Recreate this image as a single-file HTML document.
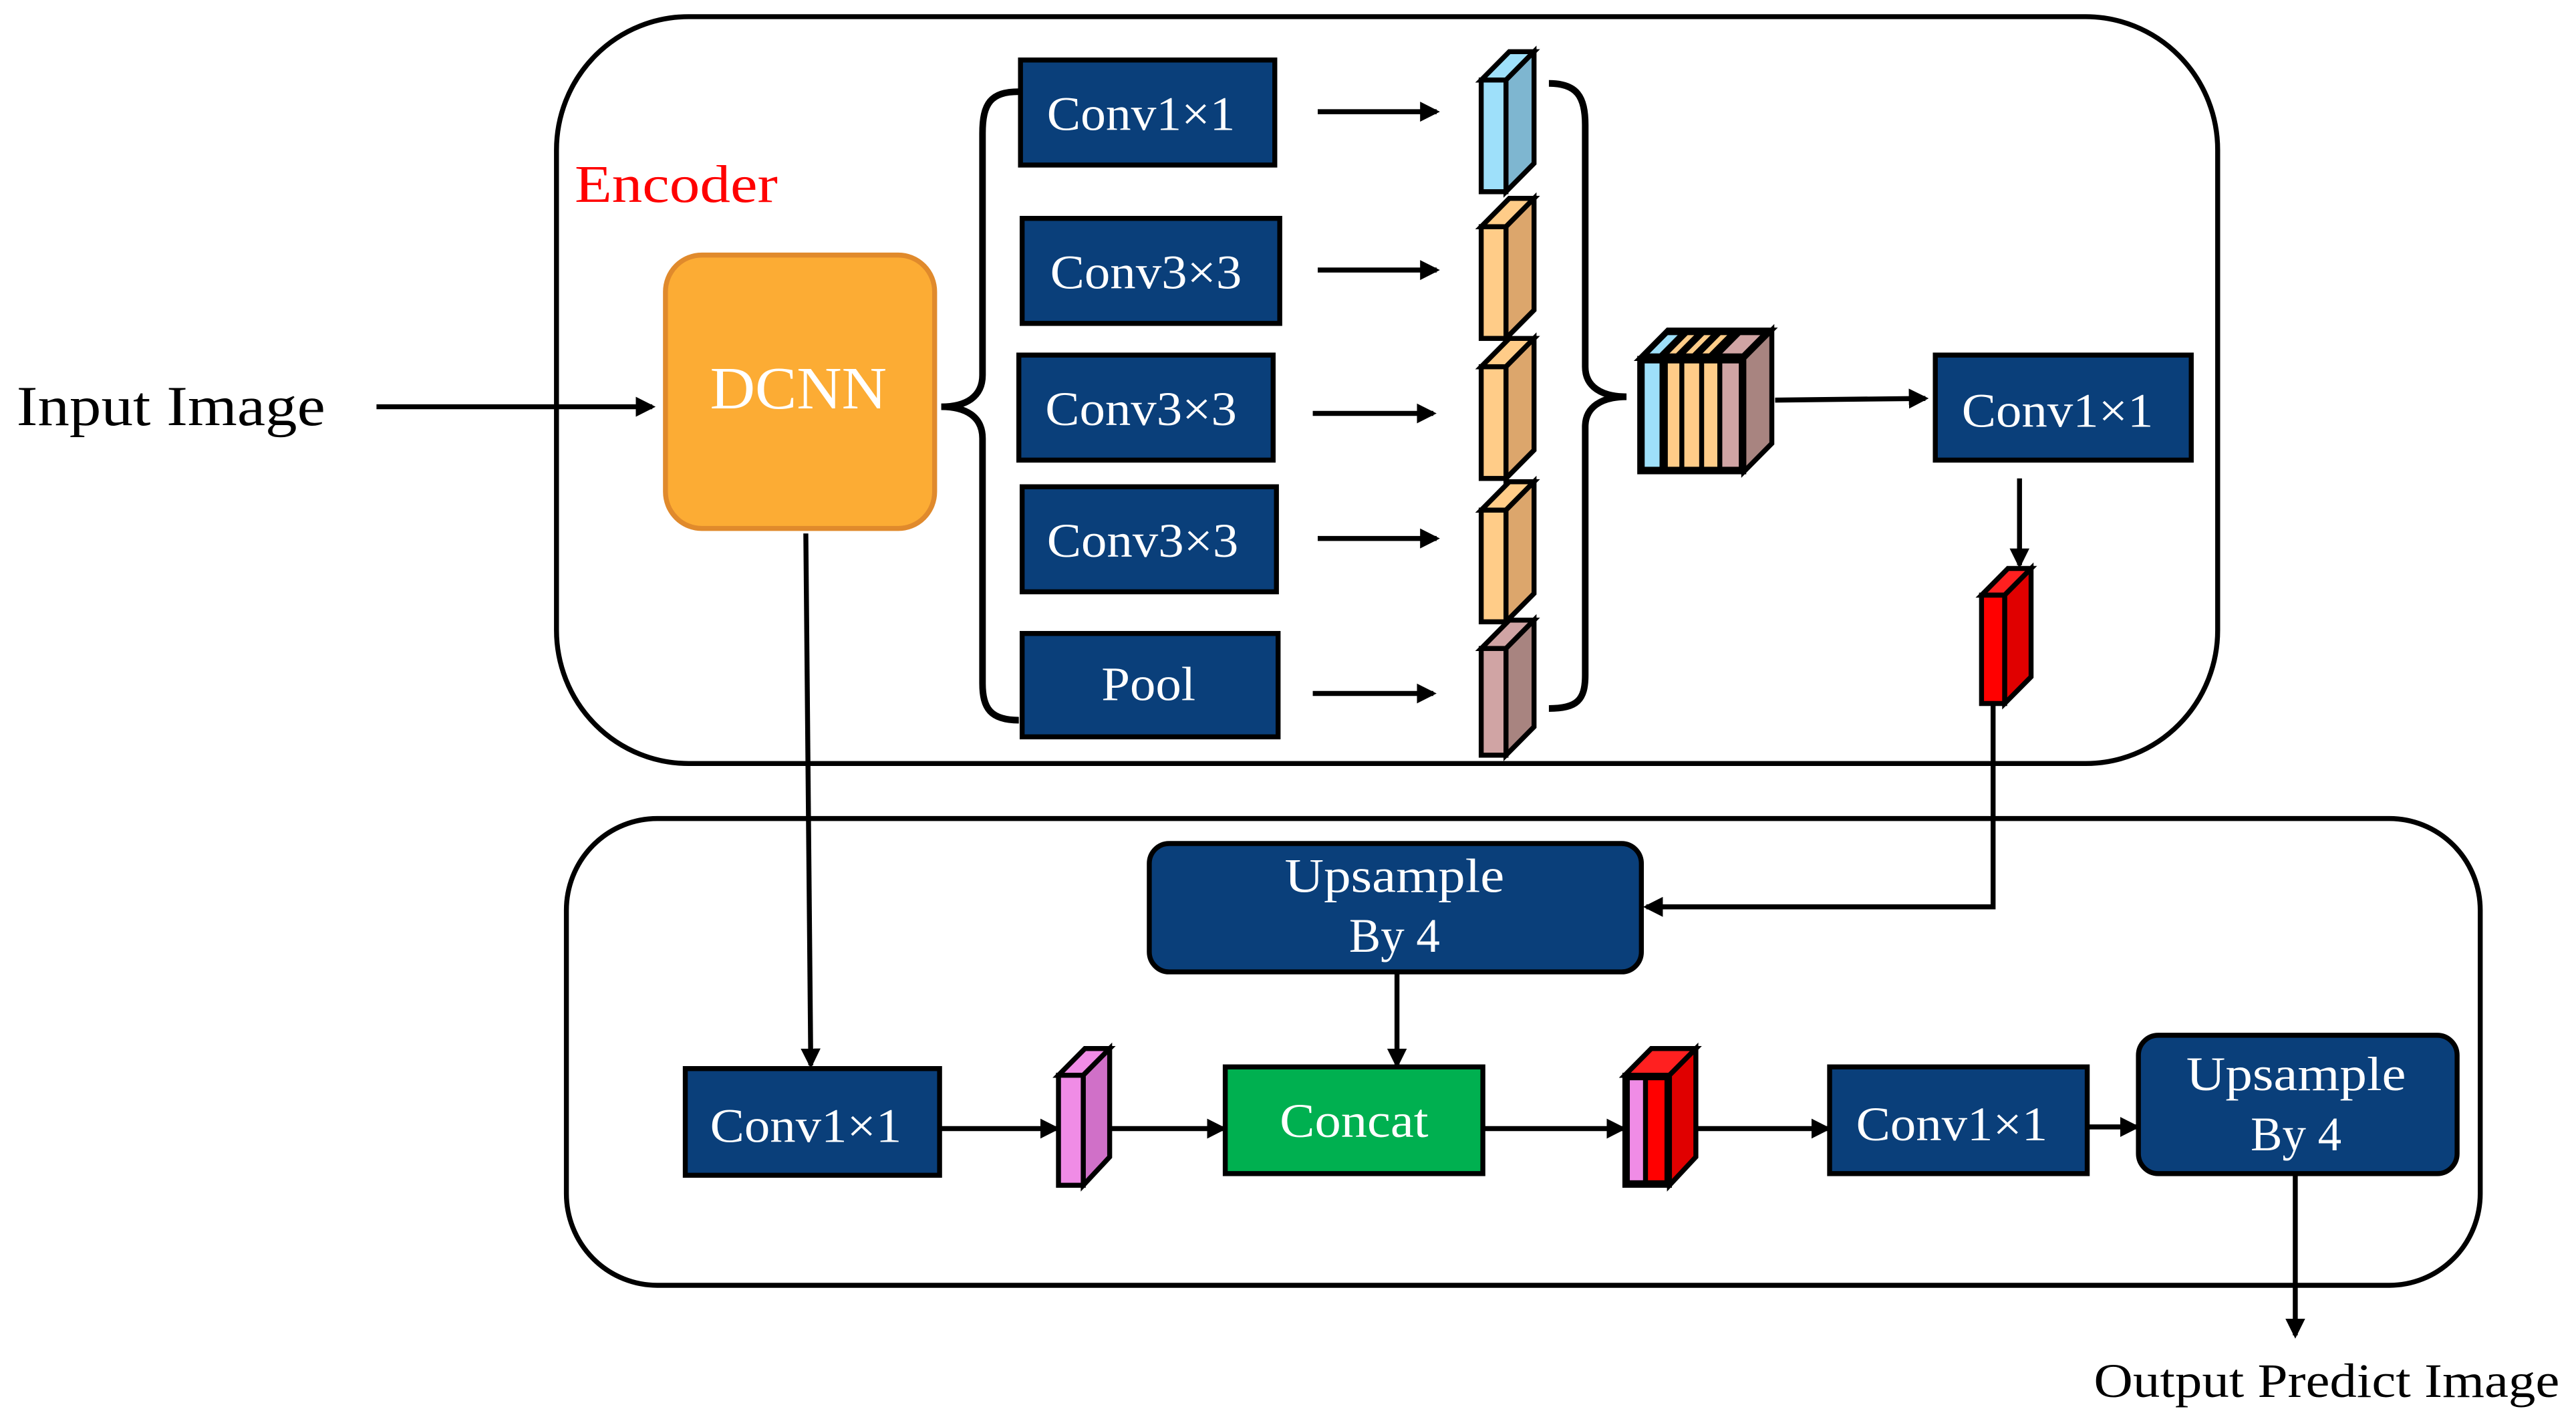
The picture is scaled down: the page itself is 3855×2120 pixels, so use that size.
<!DOCTYPE html>
<html><head><meta charset="utf-8"><style>
html,body{margin:0;padding:0;background:#fff;}
svg{display:block;}
text{font-family:"Liberation Serif",serif;}
</style></head><body>
<svg width="3855" height="2120" viewBox="0 0 1560 850" preserveAspectRatio="none" xmlns="http://www.w3.org/2000/svg">
<defs>
<marker id="ah" markerWidth="12" markerHeight="12" refX="10" refY="6" orient="auto" markerUnits="userSpaceOnUse">
<path d="M0,0 L12,6 L0,12 Z" fill="#000"/>
</marker>
</defs>
<rect x="337" y="10" width="1006" height="448" rx="80" ry="80" fill="none" stroke="#000" stroke-width="3"/>
<rect x="343" y="491" width="1159" height="280" rx="55" ry="55" fill="none" stroke="#000" stroke-width="3"/>
<text x="348" y="121" font-size="32" fill="#FF0000" textLength="123" lengthAdjust="spacingAndGlyphs">Encoder</text>
<text x="10" y="255" font-size="34" fill="#000" textLength="187" lengthAdjust="spacingAndGlyphs">Input Image</text>
<line x1="228" y1="244" x2="395" y2="244" stroke="#000" stroke-width="3" marker-end="url(#ah)"/>
<rect x="403" y="153" width="163" height="164" rx="22" ry="22" fill="#FCAC34" stroke="#E08A2C" stroke-width="3"/>
<text x="430" y="245" font-size="36" fill="#fff" textLength="107" lengthAdjust="spacingAndGlyphs">DCNN</text>
<g fill="#0A3F7A" stroke="#000" stroke-width="3">
<rect x="618" y="36" width="154" height="63"/>
<rect x="619" y="131" width="156" height="63"/>
<rect x="617" y="213" width="154" height="63"/>
<rect x="619" y="292" width="154" height="63"/>
<rect x="619" y="380" width="155" height="62"/>
<rect x="1172" y="213" width="155" height="63"/>
<rect x="415" y="641" width="154" height="64"/>
<rect x="1108" y="640" width="156" height="64"/>
<rect x="696" y="506" width="298" height="77" rx="12" ry="12"/>
<rect x="1295" y="621" width="193" height="83" rx="12" ry="12"/>
</g>
<rect x="742" y="640" width="156" height="64" fill="#00B050" stroke="#000" stroke-width="3"/>
<g font-size="29" fill="#fff">
<text x="634" y="78" textLength="114" lengthAdjust="spacingAndGlyphs">Conv1×1</text>
<text x="636" y="173" textLength="116" lengthAdjust="spacingAndGlyphs">Conv3×3</text>
<text x="633" y="255" textLength="116" lengthAdjust="spacingAndGlyphs">Conv3×3</text>
<text x="634" y="334" textLength="116" lengthAdjust="spacingAndGlyphs">Conv3×3</text>
<text x="667" y="420" textLength="57" lengthAdjust="spacingAndGlyphs">Pool</text>
<text x="1188" y="256" textLength="116" lengthAdjust="spacingAndGlyphs">Conv1×1</text>
<text x="430" y="685" textLength="116" lengthAdjust="spacingAndGlyphs">Conv1×1</text>
<text x="1124" y="684" textLength="116" lengthAdjust="spacingAndGlyphs">Conv1×1</text>
<text x="775" y="682" textLength="90" lengthAdjust="spacingAndGlyphs">Concat</text>
<text x="778" y="535" textLength="133" lengthAdjust="spacingAndGlyphs">Upsample</text>
<text x="817" y="571" textLength="55" lengthAdjust="spacingAndGlyphs">By 4</text>
<text x="1324" y="654" textLength="133" lengthAdjust="spacingAndGlyphs">Upsample</text>
<text x="1363" y="690" textLength="55" lengthAdjust="spacingAndGlyphs">By 4</text>
</g>
<text x="1268" y="838" font-size="29" fill="#000" textLength="282" lengthAdjust="spacingAndGlyphs">Output Predict Image</text>
<path d="M617,55 C600,55 595,62 595,80 L595,225 C595,238 585,244 570,244 C585,244 595,250 595,263 L595,410 C595,425 600,432 617,432" fill="none" stroke="#000" stroke-width="4"/>
<path d="M938,50 C955,50 960,58 960,75 L960,220 C960,232 970,238 985,238 C970,238 960,244 960,256 L960,405 C960,420 955,425 938,425" fill="none" stroke="#000" stroke-width="4"/>
<g stroke="#000" stroke-width="3" marker-end="url(#ah)">
<line x1="798" y1="67" x2="870" y2="67"/>
<line x1="798" y1="162" x2="870" y2="162"/>
<line x1="795" y1="248" x2="868" y2="248"/>
<line x1="798" y1="323" x2="870" y2="323"/>
<line x1="795" y1="416" x2="868" y2="416"/>
<line x1="1075" y1="240" x2="1166" y2="239"/>
<line x1="1223" y1="287" x2="1223" y2="339"/>
<polyline points="1207,423 1207,544 997,544" fill="none"/>
<line x1="846" y1="583" x2="846" y2="639"/>
<line x1="488" y1="320" x2="491" y2="639"/>
<line x1="569" y1="677" x2="640" y2="677"/>
<line x1="672" y1="677" x2="741" y2="677"/>
<line x1="898" y1="677" x2="983" y2="677"/>
<line x1="1027" y1="677" x2="1107" y2="677"/>
<line x1="1264" y1="676" x2="1294" y2="676"/>
<line x1="1390" y1="704" x2="1390" y2="801"/>
</g>
<g stroke="#000" stroke-width="3" stroke-linejoin="miter">
<polygon points="897,48 914,31 929,31 912,48" fill="#9EE0FA"/>
<polygon points="912,48 929,31 929,98 912,115" fill="#7EB6D0"/>
<rect x="897" y="48" width="15" height="67" fill="#9EE0FA"/>
<polygon points="897,136 914,119 929,119 912,136" fill="#FFCC88"/>
<polygon points="912,136 929,119 929,186 912,203" fill="#DCA66C"/>
<rect x="897" y="136" width="15" height="67" fill="#FFCC88"/>
<polygon points="897,220 914,203 929,203 912,220" fill="#FFCC88"/>
<polygon points="912,220 929,203 929,270 912,287" fill="#DCA66C"/>
<rect x="897" y="220" width="15" height="67" fill="#FFCC88"/>
<polygon points="897,306 914,289 929,289 912,306" fill="#FFCC88"/>
<polygon points="912,306 929,289 929,356 912,373" fill="#DCA66C"/>
<rect x="897" y="306" width="15" height="67" fill="#FFCC88"/>
<polygon points="897,389 914,372 929,372 912,389" fill="#D0A4A4"/>
<polygon points="912,389 929,372 929,436 912,453" fill="#A88480"/>
<rect x="897" y="389" width="15" height="64" fill="#D0A4A4"/>
<polygon points="993,215 1010,198 1073,198 1056,215" fill="#000"/>
<polygon points="1056,215 1073,198 1073,266 1056,283" fill="#A88480"/>
<rect x="993" y="215" width="63" height="68" fill="#000"/>
<rect x="996" y="218" width="9" height="62" fill="#9EE0FA" stroke="none"/>
<rect x="1010" y="218" width="7" height="62" fill="#FFCC88" stroke="none"/>
<rect x="1020" y="218" width="9" height="62" fill="#FFCC88" stroke="none"/>
<rect x="1032" y="218" width="8" height="62" fill="#FFCC88" stroke="none"/>
<rect x="1043" y="218" width="10" height="62" fill="#D0A4A4" stroke="none"/>
<polygon points="999,212 1010,201 1016,201 1005,212" fill="#9EE0FA" stroke="none"/>
<polygon points="1011,212 1022,201 1026,201 1015,212" fill="#FFCC88" stroke="none"/>
<polygon points="1021,212 1032,201 1036,201 1025,212" fill="#FFCC88" stroke="none"/>
<polygon points="1031,212 1042,201 1046,201 1035,212" fill="#FFCC88" stroke="none"/>
<polygon points="1043,212 1054,201 1066,201 1055,212" fill="#D0A4A4" stroke="none"/>
<polygon points="1200,357 1216,341 1230,341 1214,357" fill="#FF2020"/>
<polygon points="1214,357 1230,341 1230,406 1214,422" fill="#E00000"/>
<rect x="1200" y="357" width="14" height="65" fill="#FF0000"/>
<polygon points="641,645 657,629 672,629 656,645" fill="#F08CE6"/>
<polygon points="656,645 672,629 672,694 656,711" fill="#D070C8"/>
<rect x="641" y="645" width="15" height="66" fill="#F08CE6"/>
<polygon points="984,645 1000,629 1027,629 1011,645" fill="#FF2020"/>
<polygon points="1011,645 1027,629 1027,694 1011,711" fill="#E00000"/>
<rect x="984" y="645" width="27" height="66" fill="#000"/>
<rect x="987" y="648" width="8" height="60" fill="#F08CE6" stroke="none"/>
<rect x="998" y="648" width="10" height="60" fill="#FF0000" stroke="none"/>
</g>
</svg>
</body></html>
